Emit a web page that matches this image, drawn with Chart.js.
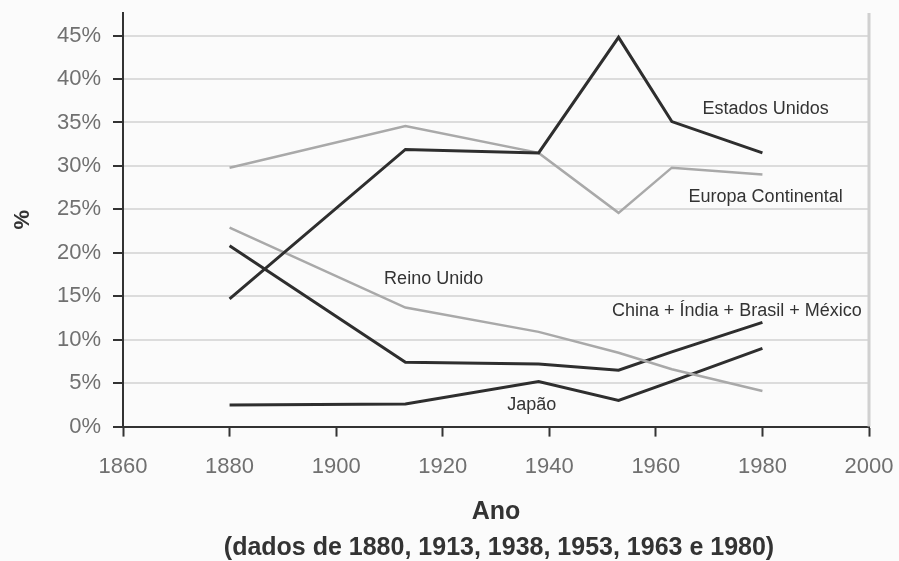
<!DOCTYPE html>
<html><head><meta charset="utf-8">
<script src="https://cdn.jsdelivr.net/npm/chart.js@4"></script>
<style>html,body{margin:0;padding:0;background:#fbfbfb}#w{width:899px;height:561px}</style>
</head><body><div id="w"><canvas id="c"></canvas></div>
<script>
const years = [1880, 1913, 1938, 1953, 1963, 1980];
const estadosUnidos = [14.7, 31.9, 31.5, 44.8, 35.1, 31.5];
const europaContinental = [29.8, 34.6, 31.5, 24.6, 29.8, 29.0];
const reinoUnido = [22.9, 13.7, 10.9, 8.5, 6.6, 4.1];
const chinaIndiaBrasilMexico = [20.8, 7.4, 7.2, 6.5, 8.6, 12.0];
const japao = [2.5, 2.6, 5.2, 3.0, 5.2, 9.0];
const xTicks = [1860, 1880, 1900, 1920, 1940, 1960, 1980, 2000];
const yTicks = [0, 5, 10, 15, 20, 25, 30, 35, 40, 45];
const labelTexts = ['Estados Unidos', 'Europa Continental', 'Reino Unido', 'China + Índia + Brasil + México', 'Japão'];
const labelYears = [1980.6, 1980.6, 1918.3, 1975.2, 1936.7];
const labelValues = [36.5, 26.4, 17.0, 13.3, 2.5];
const subtitleText = '(dados de 1880, 1913, 1938, 1953, 1963 e 1980)';

const FONT = '"Liberation Sans", Arial, sans-serif';
const DARK = '#2e2e2e', LIGHT = '#a9a9a9';
function pts(arr){ return years.map((y,i)=>({x:y, y:arr[i]})); }

const bg = { id:'bg', beforeDraw(ch){ const c=ch.ctx; c.save(); c.fillStyle='#fbfbfb'; c.fillRect(0,0,ch.width,ch.height); c.restore(); } };
const extras = { id:'extras',
  beforeDatasetsDraw(ch){ const c=ch.ctx, a=ch.chartArea; c.save(); c.strokeStyle='#d0d0d0'; c.lineWidth=3; c.beginPath(); c.moveTo(a.right,a.top); c.lineTo(a.right,a.bottom); c.stroke(); c.restore(); },
  afterDatasetsDraw(ch){ const c=ch.ctx, xs=ch.scales.x, ys=ch.scales.y, a=ch.chartArea; c.save(); c.fillStyle='#333'; c.font='18px ' + FONT; c.textAlign='center'; c.textBaseline='middle';
    labelTexts.forEach((t,i)=>{ c.fillText(t, xs.getPixelForValue(labelYears[i]), ys.getPixelForValue(labelValues[i])); });
    c.font='bold 25px ' + FONT; c.fillText(subtitleText, (a.left+a.right)/2 + 3, 548);
    c.restore(); }
};

new Chart(document.getElementById('c'), {
  type:'line',
  data:{ datasets:[
    {label:'Estados Unidos', data:pts(estadosUnidos), borderColor:DARK, borderWidth:3},
    {label:'Europa Continental', data:pts(europaContinental), borderColor:LIGHT, borderWidth:2.5},
    {label:'Reino Unido', data:pts(reinoUnido), borderColor:LIGHT, borderWidth:2.5},
    {label:'China + Índia + Brasil + México', data:pts(chinaIndiaBrasilMexico), borderColor:DARK, borderWidth:3},
    {label:'Japão', data:pts(japao), borderColor:DARK, borderWidth:3}
  ]},
  options:{
    responsive:true, maintainAspectRatio:false, animation:false,
    elements:{ point:{radius:0}, line:{tension:0} },
    layout:{ padding:{top:13, right:30, left:0, bottom:13} },
    plugins:{ legend:{display:false}, tooltip:{enabled:false}, title:{display:false} },
    scales:{
      x:{ type:'linear', min:1860, max:2000,
        afterBuildTicks(s){ s.ticks = xTicks.map(v=>({value:v})); },
        afterFit(s){ s.paddingLeft = 0; s.paddingRight = 0; },
        grid:{ drawOnChartArea:false, drawTicks:true, tickLength:10, tickColor:'#333', tickWidth:2 },
        border:{ color:'#333', width:2 },
        ticks:{ color:'#707070', font:{family:FONT, size:22}, padding:17, maxRotation:0, callback:v=>String(v) },
        title:{ display:true, text:'Ano', color:'#333', font:{family:FONT, size:25, weight:'bold', lineHeight:1.2}, padding:{top:0,bottom:21} }
      },
      y:{ type:'linear', min:0, max:47.6,
        afterBuildTicks(s){ s.ticks = yTicks.map(v=>({value:v})); },
        afterFit(s){ s.width = 123; s.paddingTop = 0; s.paddingBottom = 0; },
        grid:{ color:'#dcdcdc', lineWidth:2, drawTicks:true, tickLength:10, tickColor:'#333', tickWidth:2 },
        border:{ color:'#333', width:2 },
        ticks:{ color:'#707070', font:{family:FONT, size:22}, padding:12, callback:v=>v+'%' },
        title:{ display:true, text:'%', color:'#333', font:{family:FONT, size:22, weight:'bold', lineHeight:1.2}, padding:{top:10,bottom:0} }
      }
    }
  },
  plugins:[bg, extras]
});
</script></body></html>
